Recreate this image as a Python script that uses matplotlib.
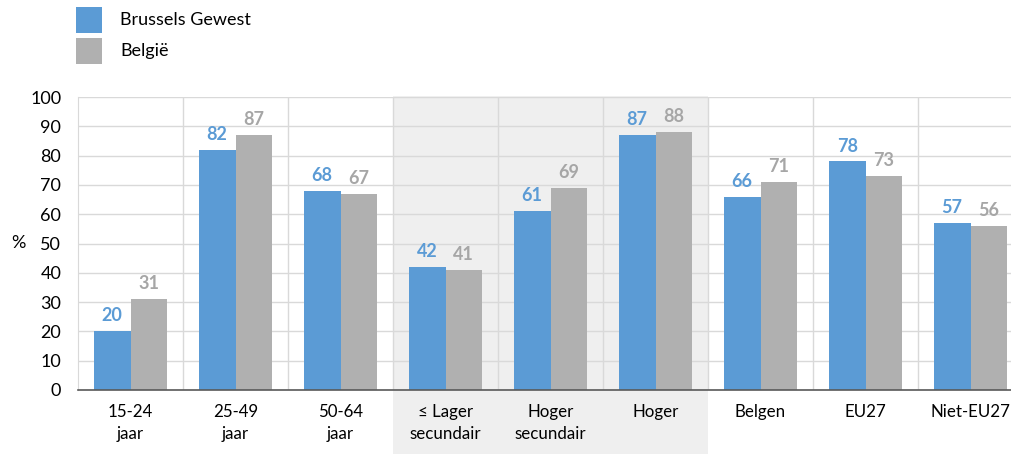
import numpy as np
import matplotlib.pyplot as plt
from matplotlib.patches import Rectangle
from matplotlib.transforms import blended_transform_factory

plt.rcParams['font.family'] = ['Lato', 'DejaVu Sans']

categories = ["15-24\njaar", "25-49\njaar", "50-64\njaar", "≤ Lager\nsecundair",
              "Hoger\nsecundair", "Hoger", "Belgen", "EU27", "Niet-EU27"]
brussels = [20, 82, 68, 42, 61, 87, 66, 78, 57]
belgie = [31, 87, 67, 41, 69, 88, 71, 73, 56]
series_names = ["Brussels Gewest", "België"]

blue = "#5b9bd5"
grey = "#b0b0b0"
W, H = 1011, 454

fig = plt.figure(figsize=(W / 100, H / 100), dpi=100)
ax = fig.add_axes([78 / W, 1 - 390 / H, 945 / W, 293 / H])

x = np.arange(len(categories))
w = 0.35
ax.bar(x - w / 2, brussels, w, color=blue, zorder=2)
ax.bar(x + w / 2, belgie, w, color=grey, zorder=2)

for i in range(len(x)):
    ax.annotate(str(brussels[i]), (x[i] - w / 2, brussels[i]), xytext=(0, 5),
                textcoords="offset points", ha="center", va="bottom",
                color=blue, fontsize=13, fontweight="bold")
    ax.annotate(str(belgie[i]), (x[i] + w / 2, belgie[i]), xytext=(0, 5),
                textcoords="offset points", ha="center", va="bottom",
                color="#a6a6a6", fontsize=13, fontweight="bold")

# shaded block behind the education categories
trans = blended_transform_factory(ax.transData, fig.transFigure)
ax.add_patch(Rectangle((2.5, 0), 3, 1 - 96 / H, transform=trans,
                       facecolor="#efefef", edgecolor="none", zorder=0, clip_on=False))

ax.set_xlim(-0.5, 8.5)
ax.set_ylim(0, 100)
ax.set_yticks(range(0, 101, 10))
ax.set_xticks(x)
ax.set_xticklabels(categories, linespacing=1.5)
ax.set_xticks(np.arange(0.5, 8.5, 1), minor=True)
ax.tick_params(axis="both", which="both", length=0)
ax.tick_params(axis="y", pad=12, labelsize=13)
ax.tick_params(axis="x", pad=10, labelsize=12.2)
ax.set_axisbelow(True)
ax.grid(axis="y", color="#d9d9d9", linewidth=1)
ax.grid(axis="x", which="minor", color="#d9d9d9", linewidth=1)
ax.patch.set_alpha(0)

for s in ["top", "right"]:
    ax.spines[s].set_visible(False)
ax.spines["left"].set_color("#d9d9d9")
ax.spines["bottom"].set_color("#595959")
ax.spines["bottom"].set_linewidth(1.2)

fig.text(11 / W, 1 - 243 / H, "%", fontsize=13, va="center", ha="left")

# legend drawn by hand: square + label
for j, (name, col) in enumerate(zip(series_names, [blue, grey])):
    top = 7 + j * 31
    fig.patches.append(Rectangle((76 / W, 1 - (top + 26) / H), 26 / W, 26 / H,
                                 transform=fig.transFigure, facecolor=col,
                                 edgecolor="none"))
    fig.text(120 / W, 1 - (top + 13) / H, name, fontsize=13, va="center", ha="left")

fig.savefig("out.png", dpi=100)
